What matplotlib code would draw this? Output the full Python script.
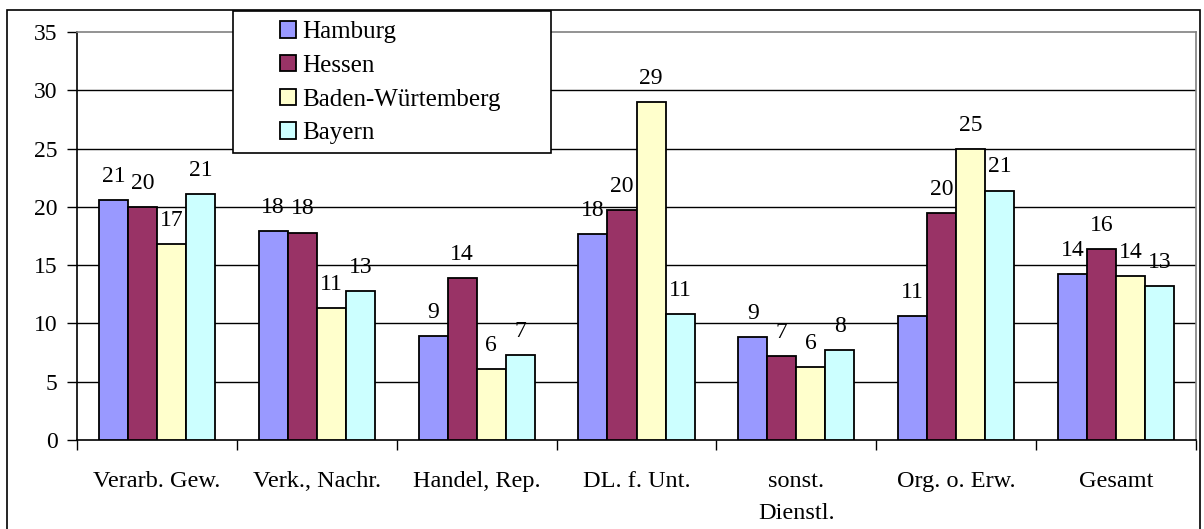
import numpy as np
import matplotlib
matplotlib.use('Agg')
import matplotlib.pyplot as plt
from matplotlib.patches import Rectangle

plt.rcParams['font.family'] = ['Liberation Serif', 'DejaVu Serif']

categories = ['Verarb. Gew.', 'Verk., Nachr.', 'Handel, Rep.', 'DL. f. Unt.',
              'sonst.\nDienstl.', 'Org. o. Erw.', 'Gesamt']
hamburg = [20.6, 17.9, 8.9, 17.7, 8.8, 10.6, 14.2]
hessen = [20.0, 17.8, 13.9, 19.7, 7.2, 19.5, 16.4]
baden_wuerttemberg = [16.8, 11.3, 6.1, 29.0, 6.3, 25.0, 14.1]
bayern = [21.1, 12.8, 7.3, 10.8, 7.7, 21.4, 13.2]

series_names = ['Hamburg', 'Hessen', 'Baden-Würtemberg', 'Bayern']
series = [hamburg, hessen, baden_wuerttemberg, bayern]
colors = ['#9999FF', '#993366', '#FFFFCC', '#CCFFFF']

W, H = 1204, 529
fig = plt.figure(figsize=(W / 100, H / 100), dpi=100)
ax = fig.add_axes([77 / W, 1 - 440 / H, (1196 - 77) / W, (440 - 32) / H])

x = np.arange(len(categories))
bw = 1 / 5.5
for i, (name, vals, c) in enumerate(zip(series_names, series, colors)):
    pos = x + (i - 1.5) * bw
    ax.bar(pos, vals, width=bw, color=c, edgecolor='black', linewidth=1.3,
           label=name, zorder=3)
    for px, v in zip(pos, vals):
        ax.annotate(f'{round(v)}', (px, v), xytext=(0, 13), textcoords='offset points',
                    ha='center', va='baseline', fontsize=17)

ax.set_xlim(-0.5, len(categories) - 0.5)
ax.set_ylim(0, 35)
ax.set_yticks(range(0, 36, 5))
ax.set_xticks(x)
ax.set_xticklabels(categories, fontsize=17.5, linespacing=1.7)
ax.set_xticks(np.arange(-0.5, len(categories), 1), minor=True)
ax.tick_params(axis='x', which='major', length=0, pad=22)
ax.tick_params(axis='x', which='minor', length=7, direction='out', width=1)
ax.tick_params(axis='y', length=7, direction='out', width=1, labelsize=17, pad=7)

for yv in range(5, 35, 5):
    ax.axhline(yv, color='black', linewidth=1, zorder=1)
ax.spines['left'].set_color('black')
ax.spines['bottom'].set_color('black')
ax.spines['top'].set_color('#808080')
ax.spines['right'].set_color('#808080')
for s in ax.spines.values():
    s.set_linewidth(1.2)

# outer chart frame
fig.patches.append(Rectangle((7 / W, -0.05), (1200 - 7) / W, 1.05 - 10 / H,
                             transform=fig.transFigure, fill=False,
                             edgecolor='black', linewidth=1.2, zorder=0))
# legend box
fig.patches.append(Rectangle((233 / W, 1 - 153 / H), (551 - 233) / W, 142 / H,
                             transform=fig.transFigure, facecolor='white',
                             edgecolor='black', linewidth=1.2, zorder=4))
handles, labels = ax.get_legend_handles_labels()
fig.legend(handles, labels, loc='upper left',
           bbox_to_anchor=(280 / W, 1 - 21 / H), frameon=False, fontsize=18,
           handlelength=0.64, handleheight=0.64, handletextpad=0.24,
           labelspacing=0.47, borderpad=0, borderaxespad=0)

fig.savefig('out.png', dpi=100)
